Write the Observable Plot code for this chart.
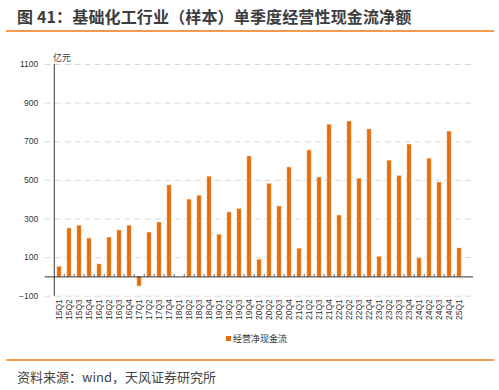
<!DOCTYPE html>
<html><head><meta charset="utf-8">
<script src="https://cdn.jsdelivr.net/npm/d3@7"></script>
<script src="https://cdn.jsdelivr.net/npm/@observablehq/plot@0.6"></script>
<style>
html,body{margin:0;padding:0;background:#fff;}
#wrap{position:relative;width:499px;height:390px;overflow:hidden;font-family:"Noto Sans CJK SC","Noto Sans",sans-serif;}
#title{position:absolute;left:17px;top:4px;font-size:16px;font-weight:bold;color:#3d3d3d;white-space:nowrap;letter-spacing:0.15px;}
.hline{position:absolute;left:6px;width:488px;height:2px;background:#F59B4C;}
#unit{position:absolute;left:53px;top:51px;font-size:9px;color:#333;}
#chart{position:absolute;left:0;top:40px;}
#legend{position:absolute;left:226px;top:332px;font-size:9px;color:#333;display:flex;align-items:center;white-space:nowrap;}
#legend span.sw{display:inline-block;width:5px;height:5px;background:#E46C0A;margin-right:2px;}
#source{position:absolute;left:17px;top:367px;font-size:13px;color:#444;white-space:nowrap;}
</style></head>
<body>
<div id="wrap">
  <div id="title">图 41：基础化工行业（样本）单季度经营性现金流净额</div>
  <div class="hline" style="top:30px"></div>
  <div id="unit">亿元</div>
  <div id="chart"></div>
  <div id="legend"><span class="sw"></span>经营净现金流</div>
  <div class="hline" style="top:359px"></div>
  <div id="source">资料来源：wind，天风证券研究所</div>
</div>
<script>
const quarters = ["15Q1","15Q2","15Q3","15Q4","16Q1","16Q2","16Q3","16Q4","17Q1","17Q2","17Q3","17Q4",
  "18Q1","18Q2","18Q3","18Q4","19Q1","19Q2","19Q3","19Q4","20Q1","20Q2","20Q3","20Q4",
  "21Q1","21Q2","21Q3","21Q4","22Q1","22Q2","22Q3","22Q4","23Q1","23Q2","23Q3","23Q4",
  "24Q1","24Q2","24Q3","24Q4","25Q1"];
const cashFlow = [50,250,264,198,64,203,240,264,-49,229,281,473,
  0,399,419,518,217,333,350,623,88,480,364,566,
  145,654,514,787,317,804,507,763,102,601,521,685,
  95,611,488,752,147];
const yTicks = [-100,100,300,500,700,900,1100];

const data = quarters.map((q,i)=>({q, v: cashFlow[i]}));
const W = 499, ML = 44.7, MR = 26;
const step = (W - ML - MR) / quarters.length;

const chart = Plot.plot({
  width: W, height: 300,
  marginTop: 24, marginBottom: 44.3, marginLeft: ML, marginRight: MR,
  style: {fontFamily: "'Liberation Sans', Arial, sans-serif", fontSize: "8.5px", color: "#333", background: "transparent"},
  x: {domain: quarters, paddingInner: 0.62, paddingOuter: 0.31, label: null, tickRotate: -90, tickSize: 0, tickPadding: 3},
  y: {domain: [-100, 1100], ticks: yTicks, tickFormat: d => String(d).replace("-", "\u2212"), label: null, tickSize: 0, tickPadding: 7},
  marks: [
    Plot.ruleY(yTicks, {stroke: "#D9D9D9", strokeDasharray: "6,4", strokeWidth: 1}),
    Plot.barY(data, {x: "q", y: "v", fill: "#E46C0A", stroke: "#F3A266", strokeWidth: 0.5}),
    Plot.ruleX(quarters.slice(1), {y1: 0, y2: 12, dx: -step/2, stroke: "#666", strokeWidth: 1}),
    Plot.ruleY([0], {stroke: "#333", strokeWidth: 1}),
    Plot.ruleX([quarters[0]], {y1: -100, y2: 1100, dx: -step/2, stroke: "#333", strokeWidth: 1})
  ]
});
document.getElementById("chart").appendChild(chart);
</script>
</body></html>
